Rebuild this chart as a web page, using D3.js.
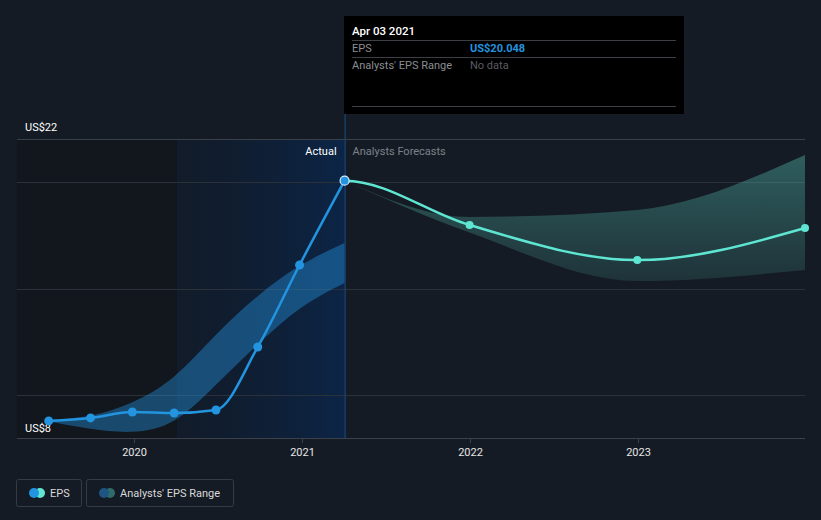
<!DOCTYPE html>
<html><head><meta charset="utf-8">
<script src="https://cdn.jsdelivr.net/npm/d3@7"></script>
<style>
html,body{margin:0;padding:0;background:#151b24;}
svg{display:block;font-family:Roboto,"Open Sans",sans-serif;}
</style></head>
<body>
<svg id="chart" width="821" height="520"></svg>
<script>
// ---- data ----
const pastDates = ["2019-06-29","2019-09-28","2019-12-28","2020-03-28","2020-06-27","2020-09-26","2020-12-26","2021-04-03"];
const pastEPS   = [8.80, 8.94, 9.22, 9.17, 9.31, 12.26, 16.10, 20.048];
const pastRangeHigh = [8.84, 8.97, 9.60, 10.70, 12.90, 14.70, 16.15, 17.13];
const pastRangeLow  = [8.77, 8.40, 8.20, 8.55, 10.50, 12.40, 14.18, 15.26];
const fcDates = ["2021-04-03","2021-12-31","2022-12-31","2023-12-31"];
const fcEPS   = [20.048, 17.97, 16.33, 17.83];
const fcRangeHigh = [20.048, 18.35, 18.68, 21.25];
const fcRangeLow  = [20.048, 17.62, 15.35, 15.87];
const yTickValues = [8, 22];
const yTickLabels = ["US$8", "US$22"];
const gridValues = [10, 15, 20];
const xTickYears = ["2020","2021","2022","2023"];
const tooltipDate = "Apr 03 2021";
const tooltipEPS = "US$20.048";

const parse = d3.timeParse("%Y-%m-%d");
const svg = d3.select("#chart");
const W = 821, H = 520;
const x0 = 17, x1 = 805, yTop = 139, yBot = 438;

const x = d3.scaleTime().domain([parse("2019-04-21"), parse("2023-12-31")]).range([x0, x1]);
const y = d3.scaleLinear().domain([8, 22]).range([yBot, yTop]);

const past = pastDates.map((d,i)=>({d:parse(d), v:pastEPS[i], hi:pastRangeHigh[i], lo:pastRangeLow[i]}));
const fc = fcDates.map((d,i)=>({d:parse(d), v:fcEPS[i], hi:fcRangeHigh[i], lo:fcRangeLow[i]}));

const defs = svg.append("defs");
const hg = defs.append("linearGradient").attr("id","hl").attr("x1","0").attr("x2","1").attr("y1","0").attr("y2","0");
hg.append("stop").attr("offset","0").attr("stop-color","#0c1c33").attr("stop-opacity",0.35);
hg.append("stop").attr("offset","1").attr("stop-color","#0c2546").attr("stop-opacity",1);
const fg = defs.append("linearGradient").attr("id","fcband").attr("x1","0").attr("x2","0").attr("y1","0").attr("y2","1");
fg.append("stop").attr("offset","0").attr("stop-color","#58c9bb").attr("stop-opacity",0.38);
fg.append("stop").attr("offset","1").attr("stop-color","#58c9bb").attr("stop-opacity",0.14);

const nowDate = parse("2021-04-03");
const hlStart = parse("2020-04-03");
defs.append("clipPath").attr("id","fcclip").append("rect")
  .attr("x",x(nowDate)).attr("y",0).attr("width",x1-x(nowDate)+10).attr("height",H);

// background
svg.append("rect").attr("width",W).attr("height",H).attr("fill","#151b24");

// darker past region
svg.append("rect").attr("x",x0).attr("y",yTop).attr("width",x(hlStart)-x0).attr("height",yBot-yTop).attr("fill","#11151b").attr("opacity",0.8);
// highlighted last-year region
svg.append("rect").attr("x",x(hlStart)).attr("y",yTop).attr("width",x(nowDate)-x(hlStart)).attr("height",yBot-yTop).attr("fill","url(#hl)");

// grid
svg.append("g").selectAll("line").data(gridValues).join("line")
  .attr("x1",x0).attr("x2",x1).attr("y1",d=>Math.round(y(d))+0.5).attr("y2",d=>Math.round(y(d))+0.5)
  .attr("stroke","#2b313b").attr("stroke-width",1);
svg.append("line").attr("x1",x0).attr("x2",x1).attr("y1",yTop+0.5).attr("y2",yTop+0.5).attr("stroke","#3a404a");

// y labels
svg.append("g").selectAll("text").data(yTickValues).join("text")
  .attr("x",25).attr("y",d=> d===22 ? y(d)-8 : y(d)-6)
  .attr("fill","#ffffff").attr("font-size",11).text((d,i)=>yTickLabels[i]);

// bands
const areaPast = d3.area().x(d=>x(d.d)).y0(d=>y(d.lo)).y1(d=>y(d.hi)).curve(d3.curveBasis);
svg.append("path").datum(past).attr("d",areaPast).attr("fill","#2394df").attr("opacity",0.42);
const areaFc = d3.area().x(d=>x(d.d)).y0(d=>y(d.lo)).y1(d=>y(d.hi)).curve(d3.curveMonotoneX);
svg.append("path").datum(fc).attr("d",areaFc).attr("fill","url(#fcband)");

// vertical now line
svg.append("line").attr("x1",x(nowDate)+0.5).attr("x2",x(nowDate)+0.5).attr("y1",114).attr("y2",yBot).attr("stroke","#1b4f86").attr("stroke-width",1);

// labels Actual / Forecasts
svg.append("text").attr("x",x(nowDate)-8).attr("y",155).attr("text-anchor","end").attr("fill","#ffffff").attr("font-size",11).text("Actual");
svg.append("text").attr("x",x(nowDate)+8).attr("y",155).attr("fill","#7c828b").attr("font-size",11).text("Analysts Forecasts");

// lines: forecast smoothed together with the preceding actual point, drawn only after "now"
const line = d3.line().x(d=>x(d.d)).y(d=>y(d.v)).curve(d3.curveMonotoneX);
svg.append("path").datum([past[past.length-2]].concat(fc)).attr("d",line).attr("clip-path","url(#fcclip)")
  .attr("fill","none").attr("stroke","#5ee6d2").attr("stroke-width",2.5);
svg.append("path").datum(past).attr("d",line).attr("fill","none").attr("stroke","#2394df").attr("stroke-width",2.5);

svg.append("g").selectAll("circle").data(fc.slice(1)).join("circle")
  .attr("cx",d=>x(d.d)).attr("cy",d=>y(d.v)).attr("r",4).attr("fill","#5ee6d2");
svg.append("g").selectAll("circle").data(past.slice(0,-1)).join("circle")
  .attr("cx",d=>x(d.d)).attr("cy",d=>y(d.v)).attr("r",4.5).attr("fill","#2394df");
const last = past[past.length-1];
svg.append("circle").attr("cx",x(last.d)).attr("cy",y(last.v)).attr("r",4.5).attr("fill","#2394df").attr("stroke","#d8ecff").attr("stroke-width",1.2);

// x axis
svg.append("line").attr("x1",x0).attr("x2",x1).attr("y1",yBot+0.5).attr("y2",yBot+0.5).attr("stroke","#3b414b");
const xt = svg.append("g");
xTickYears.forEach(yr=>{
  const xx = Math.round(x(parse(yr+"-01-01")))+0.5;
  xt.append("line").attr("x1",xx).attr("x2",xx).attr("y1",yBot).attr("y2",yBot+5).attr("stroke","#3b414b");
  xt.append("text").attr("x",xx).attr("y",456).attr("text-anchor","middle").attr("fill","#e6e6e6").attr("font-size",11).text(yr);
});

// tooltip
const tt = svg.append("g");
tt.append("rect").attr("x",344).attr("y",16).attr("width",340).attr("height",98).attr("fill","#000000");
tt.append("text").attr("x",352).attr("y",35).attr("fill","#ffffff").attr("font-size",11.5).attr("font-weight",500).text(tooltipDate);
[40,57,106].forEach(yy=>tt.append("line").attr("x1",352).attr("x2",676).attr("y1",yy+0.5).attr("y2",yy+0.5).attr("stroke","#3c3f44"));
tt.append("text").attr("x",352).attr("y",52).attr("fill","#8a8d92").attr("font-size",11).text("EPS");
tt.append("text").attr("x",470).attr("y",52).attr("fill","#2394df").attr("font-size",11).attr("font-weight",700).text(tooltipEPS);
tt.append("text").attr("x",352).attr("y",69).attr("fill","#8a8d92").attr("font-size",11).text("Analysts' EPS Range");
tt.append("text").attr("x",470).attr("y",69).attr("fill","#5a5d62").attr("font-size",11).text("No data");

// legend
const lg = svg.append("g");
lg.append("rect").attr("x",16.5).attr("y",479.5).attr("width",65).attr("height",27).attr("rx",2).attr("fill","none").attr("stroke","#363c45");
lg.append("circle").attr("cx",40).attr("cy",493).attr("r",5).attr("fill","#5ee6d2");
lg.append("circle").attr("cx",34).attr("cy",493).attr("r",5).attr("fill","#2394df");
lg.append("text").attr("x",50).attr("y",497).attr("fill","#d9d9d9").attr("font-size",11).text("EPS");
lg.append("rect").attr("x",86.5).attr("y",479.5).attr("width",147).attr("height",27).attr("rx",2).attr("fill","none").attr("stroke","#363c45");
lg.append("circle").attr("cx",110).attr("cy",493).attr("r",5).attr("fill","#2f6b68");
lg.append("circle").attr("cx",104).attr("cy",493).attr("r",5).attr("fill","#1e5582");
lg.append("text").attr("x",120).attr("y",497).attr("fill","#d9d9d9").attr("font-size",11).text("Analysts' EPS Range");
</script>
</body></html>
